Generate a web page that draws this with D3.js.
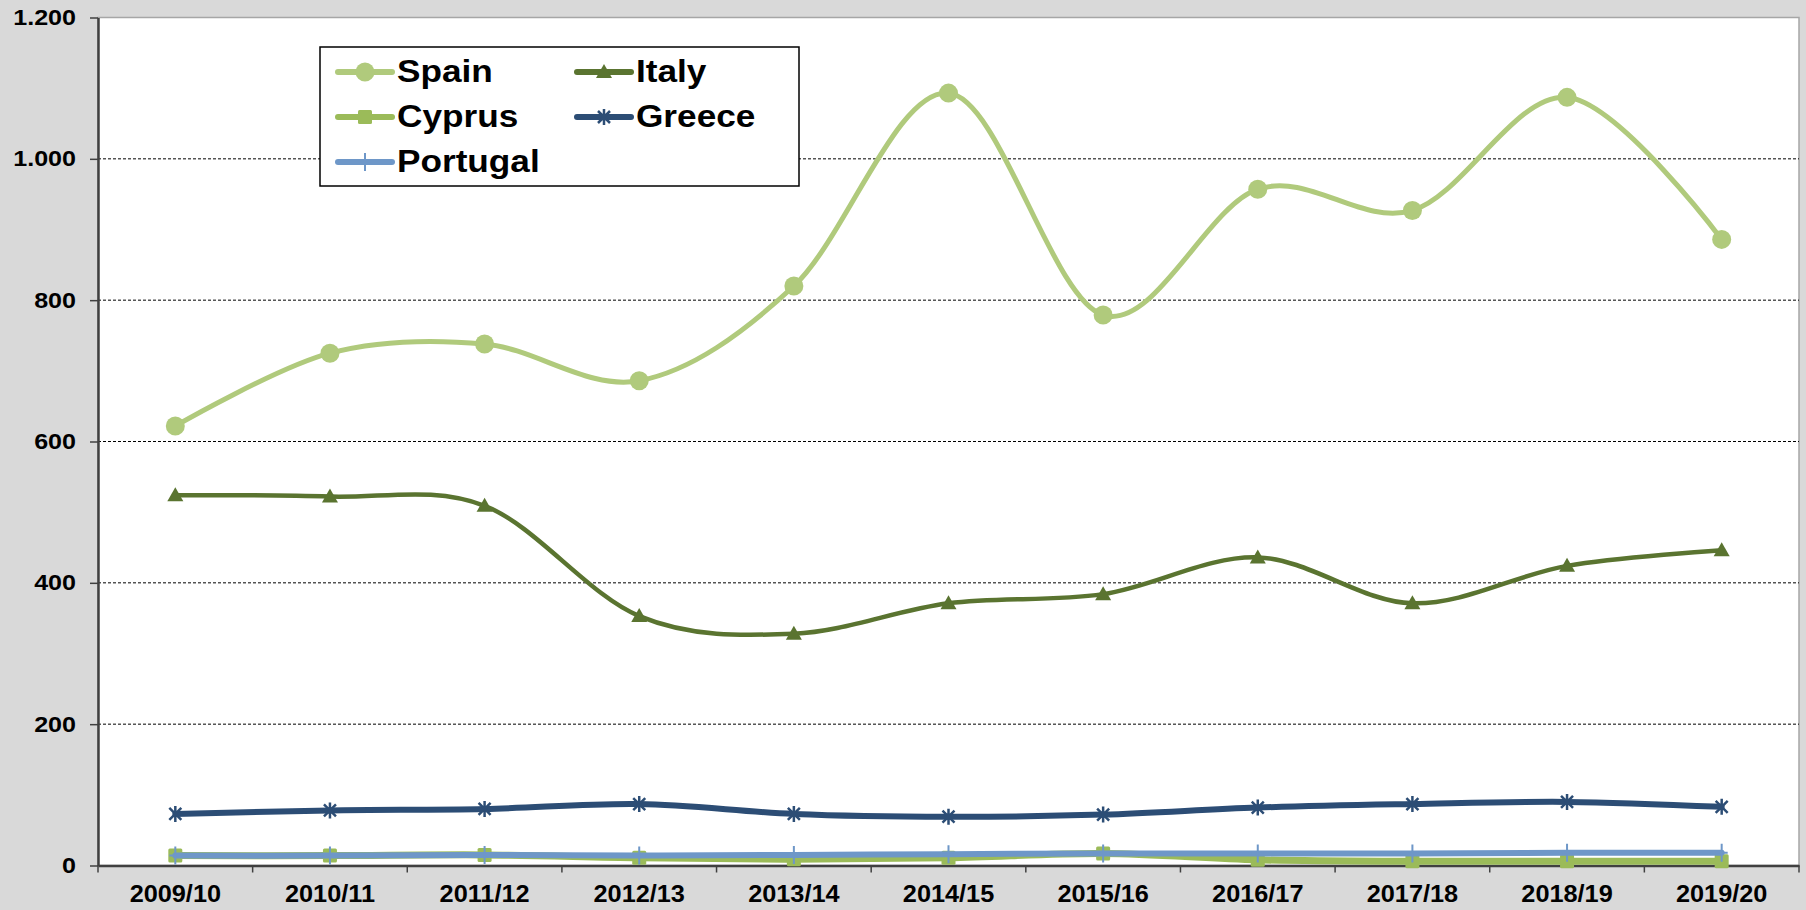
<!DOCTYPE html>
<html>
<head>
<meta charset="utf-8">
<script src="https://cdn.jsdelivr.net/npm/d3@7"></script>
<style>
  body { margin: 0; background: #d9d9d9; }
  svg { display: block; font-family: "Liberation Sans", Arial, sans-serif; }
</style>
</head>
<body>
<svg id="chart" width="1806" height="910"></svg>
<script>
// chart data
const seasons = ["2009/10", "2010/11", "2011/12", "2012/13", "2013/14", "2014/15", "2015/16", "2016/17", "2017/18", "2018/19", "2019/20"];
const spain    = [622, 725, 738, 686, 820, 1093, 779, 957, 927, 1087, 886];
const italy    = [524, 522, 509, 353, 328, 371, 384, 436, 371, 424, 446];
const cyprus   = [14, 14, 15, 11, 9, 11, 17, 8, 6, 6, 6];
const greece   = [73, 78, 80, 87, 73, 69, 72, 82, 87, 90, 83];
const portugal = [14, 14, 15, 14, 15, 16, 17, 17, 17, 18, 18];
const yTicks = [0, 200, 400, 600, 800, 1000, 1200];

const series = [
    { name: "Spain",    values: spain,    color: "#b0ca7c", width: 5,   marker: "circle" },
    { name: "Italy",    values: italy,    color: "#5a7430", width: 4.5, marker: "triangle" },
    { name: "Cyprus",   values: cyprus,   color: "#9bbb59", width: 7,   marker: "square" },
    { name: "Greece",   values: greece,   color: "#2c4d75", width: 6,   marker: "star" },
    { name: "Portugal", values: portugal, color: "#6e97c8", width: 6,   marker: "plus" }
];

const svg = d3.select("#chart");
const plotLeft = 98, plotRight = 1799, plotTop = 17.5, plotBottom = 865.5;

const x = d3.scaleBand().domain(seasons).range([plotLeft, plotRight]).paddingInner(0).paddingOuter(0);
const y = d3.scaleLinear().domain([0, 1200]).range([plotBottom, plotTop]);
const cx = d => x(d) + x.bandwidth() / 2;

// plot area
svg.append("rect")
    .attr("x", plotLeft).attr("y", plotTop)
    .attr("width", plotRight - plotLeft).attr("height", plotBottom - plotTop)
    .attr("fill", "#fff")
    .attr("stroke", "#a6a6a6").attr("stroke-width", 1.5);

// gridlines
svg.append("g")
    .selectAll("line")
    .data(yTicks.filter(t => t > 0 && t < 1200))
    .enter().append("line")
    .attr("x1", plotLeft).attr("x2", plotRight)
    .attr("y1", d => y(d)).attr("y2", d => y(d))
    .attr("stroke", "#000").attr("stroke-width", 1)
    .attr("stroke-dasharray", "3,2");

// y axis (labels are a bit wide in the original, so stretch horizontally)
const yAxis = svg.append("g")
    .attr("transform", `translate(${plotLeft},0)`)
    .call(d3.axisLeft(y)
        .tickValues(yTicks)
        .tickFormat(d => d3.format(",")(d).replace(",", "."))
        .tickSize(8)
        .tickPadding(14)
        .tickSizeOuter(0));
yAxis.select(".domain").attr("stroke", "#404040").attr("stroke-width", 2.5);
yAxis.selectAll(".tick line").attr("stroke", "#404040").attr("stroke-width", 1.5);
yAxis.selectAll("text")
    .attr("x", 0)
    .attr("transform", "translate(-22,0) scale(1.14,1)")
    .attr("font-size", 22).attr("font-weight", "bold").attr("fill", "#000")
    .attr("font-family", "'Liberation Sans', Arial, sans-serif");

// x axis
const xAxis = svg.append("g")
    .attr("transform", `translate(0,${plotBottom})`)
    .call(d3.axisBottom(x).tickSize(0).tickPadding(20).tickSizeOuter(0));
xAxis.select(".domain").attr("stroke", "#404040").attr("stroke-width", 2.5);
xAxis.selectAll("text")
    .attr("transform", "scale(1.1,1)")
    .attr("font-size", 23).attr("font-weight", "bold").attr("fill", "#000")
    .attr("font-family", "'Liberation Sans', Arial, sans-serif");

// category boundary ticks
const edges = seasons.map(s => x(s)).concat([plotRight]);
svg.append("g")
    .selectAll("line")
    .data(edges)
    .enter().append("line")
    .attr("x1", d => d).attr("x2", d => d)
    .attr("y1", plotBottom).attr("y2", plotBottom + 7)
    .attr("stroke", "#404040").attr("stroke-width", 1.5);

// marker drawing
function drawMarker(g, type, color, px, py) {
    if (type === "circle") {
        g.append("circle").attr("cx", px).attr("cy", py).attr("r", 9.5).attr("fill", color);
    } else if (type === "triangle") {
        g.append("path")
            .attr("d", `M${px},${py - 8}L${px + 8},${py + 6}L${px - 8},${py + 6}Z`)
            .attr("fill", color);
    } else if (type === "square") {
        g.append("rect").attr("x", px - 7).attr("y", py - 7).attr("width", 14).attr("height", 14)
            .attr("rx", 1.5).attr("fill", color);
    } else if (type === "star") {
        g.append("path")
            .attr("d", `M${px - 6},${py - 6}L${px + 6},${py + 6}M${px + 6},${py - 6}L${px - 6},${py + 6}M${px},${py - 8}L${px},${py + 8}`)
            .attr("stroke", color).attr("stroke-width", 2.5).attr("fill", "none");
    } else if (type === "plus") {
        g.append("path")
            .attr("d", `M${px},${py - 9}L${px},${py + 9}M${px - 6},${py}L${px + 6},${py}`)
            .attr("stroke", color).attr("stroke-width", 2).attr("fill", "none");
    }
}

const line = d3.line()
    .x((d, i) => cx(seasons[i]))
    .y(d => y(d))
    .curve(d3.curveCardinal.tension(0));

series.forEach(s => {
    const g = svg.append("g").attr("class", "series");
    g.append("path")
        .datum(s.values)
        .attr("d", line)
        .attr("fill", "none")
        .attr("stroke", s.color)
        .attr("stroke-width", s.width)
        .attr("stroke-linejoin", "round")
        .attr("stroke-linecap", "round");
    s.values.forEach((v, i) => drawMarker(g, s.marker, s.color, cx(seasons[i]), y(v)));
});

// legend
const legend = svg.append("g");
legend.append("rect")
    .attr("x", 320).attr("y", 47).attr("width", 479).attr("height", 139)
    .attr("fill", "#fff").attr("stroke", "#000").attr("stroke-width", 1.5);

const legendPos = [
    { x: 338, y: 72 }, { x: 577, y: 72 },
    { x: 338, y: 117 }, { x: 577, y: 117 },
    { x: 338, y: 162 }
];
series.forEach((s, i) => {
    const p = legendPos[i];
    legend.append("line")
        .attr("x1", p.x).attr("x2", p.x + 54)
        .attr("y1", p.y).attr("y2", p.y)
        .attr("stroke", s.color).attr("stroke-width", 6).attr("stroke-linecap", "round");
    drawMarker(legend, s.marker, s.color, p.x + 27, p.y);
    legend.append("text")
        .attr("transform", `translate(${p.x + 59},${p.y}) scale(1.1,1)`)
        .attr("dy", "0.3em")
        .attr("font-size", 32).attr("font-weight", "bold")
        .text(s.name);
});
</script>
</body>
</html>
